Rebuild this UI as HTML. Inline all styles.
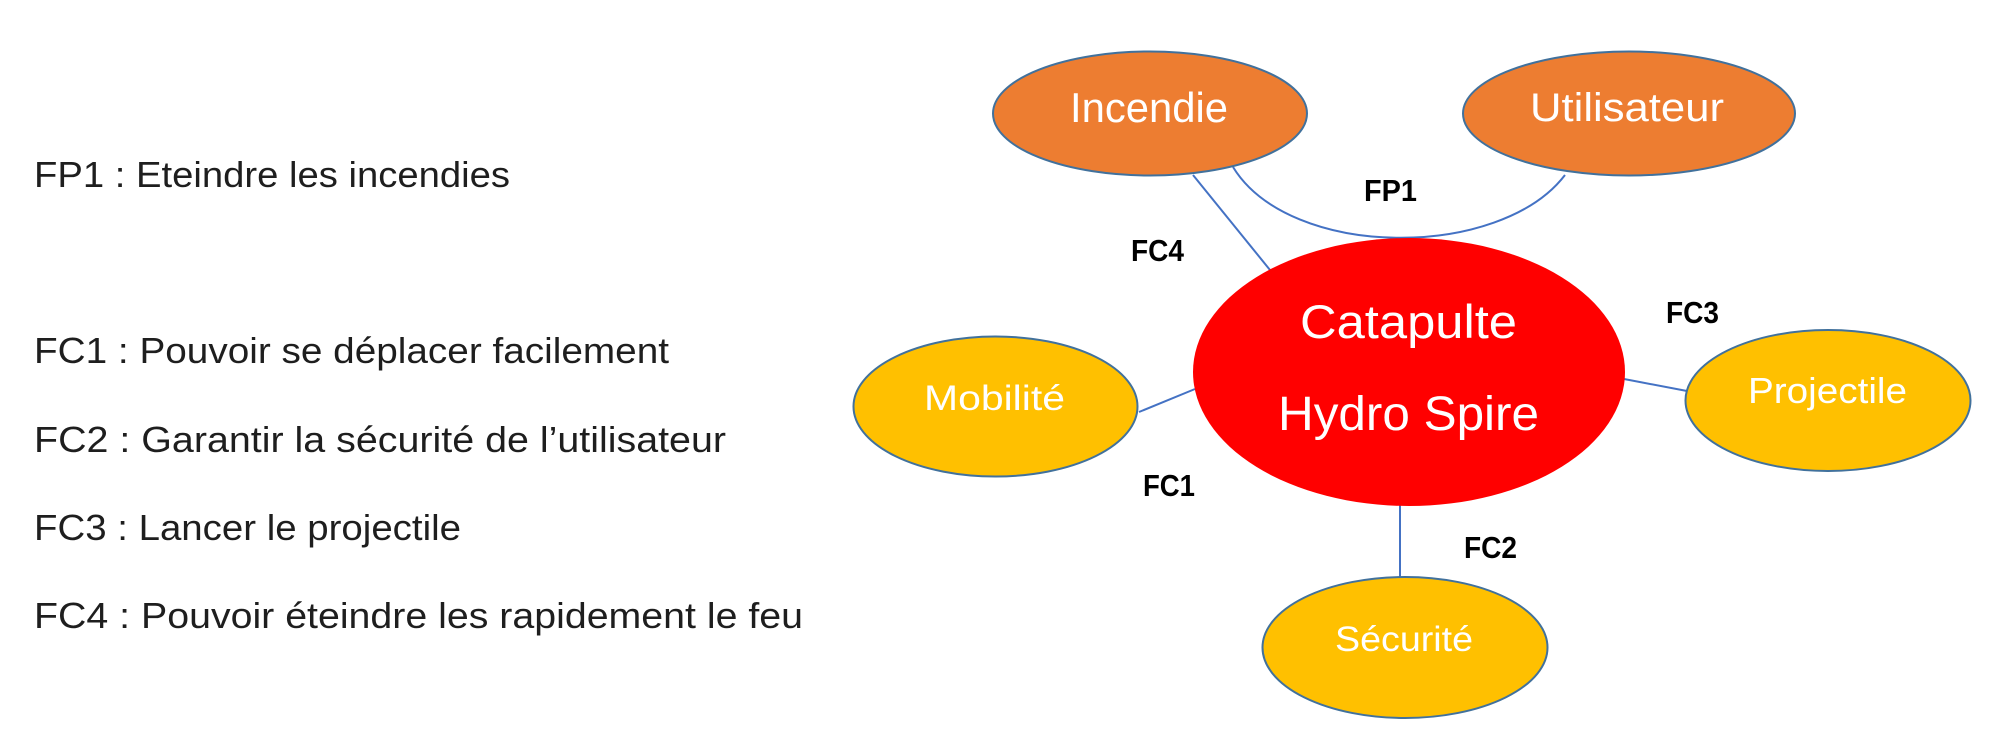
<!DOCTYPE html>
<html>
<head>
<meta charset="utf-8">
<style>
  html, body { margin: 0; padding: 0; background: #ffffff; }
  body { width: 2000px; height: 748px; overflow: hidden; }
  svg { display: block; }
  .lt { font-family: "Liberation Sans", sans-serif; fill: #1e1e1e; }
  .wt { font-family: "Liberation Sans", sans-serif; fill: #ffffff; }
  .bl { font-family: "Liberation Sans", sans-serif; font-weight: bold; fill: #000000; }
</style>
</head>
<body>
<svg width="2000" height="748" viewBox="0 0 2000 748" xmlns="http://www.w3.org/2000/svg">
  <rect x="0" y="0" width="2000" height="748" fill="#ffffff"/>

  <!-- Left legend text -->
  <text class="lt" x="34" y="187" font-size="36" textLength="476" lengthAdjust="spacingAndGlyphs">FP1 : Eteindre les incendies</text>
  <text class="lt" x="34" y="363" font-size="36" textLength="635" lengthAdjust="spacingAndGlyphs">FC1 : Pouvoir se déplacer facilement</text>
  <text class="lt" x="34" y="452" font-size="36" textLength="692" lengthAdjust="spacingAndGlyphs">FC2 : Garantir la sécurité de l’utilisateur</text>
  <text class="lt" x="34" y="540" font-size="36" textLength="427" lengthAdjust="spacingAndGlyphs">FC3 : Lancer le projectile</text>
  <text class="lt" x="34" y="628" font-size="36" textLength="769" lengthAdjust="spacingAndGlyphs">FC4 : Pouvoir éteindre les rapidement le feu</text>

  <!-- Connectors -->
  <g stroke="#4472C4" stroke-width="2" fill="none">
    <line x1="1193" y1="175" x2="1270" y2="270"/>
    <line x1="1139" y1="412" x2="1195" y2="389"/>
    <line x1="1624" y1="379" x2="1687" y2="391"/>
    <line x1="1400" y1="505" x2="1400" y2="578"/>
    <path d="M1233,167 C1290,260 1500,260 1565,175"/>
  </g>

  <!-- Ellipses -->
  <g stroke="#41719C" stroke-width="2">
    <ellipse cx="1150" cy="113.5" rx="157" ry="62" fill="#ED7D31"/>
    <ellipse cx="1629" cy="113.5" rx="166" ry="62" fill="#ED7D31"/>
    <ellipse cx="995.5" cy="406.5" rx="142" ry="70" fill="#FFC000"/>
    <ellipse cx="1828" cy="400.5" rx="142.5" ry="70.5" fill="#FFC000"/>
    <ellipse cx="1405" cy="647.5" rx="142.5" ry="70.5" fill="#FFC000"/>
  </g>
  <ellipse cx="1409" cy="372" rx="216" ry="134" fill="#FF0000"/>

  <!-- Ellipse labels -->
  <text class="wt" x="1070" y="122" font-size="42" textLength="158" lengthAdjust="spacingAndGlyphs">Incendie</text>
  <text class="wt" x="1530" y="121" font-size="40" textLength="194" lengthAdjust="spacingAndGlyphs">Utilisateur</text>
  <text class="wt" x="924" y="410" font-size="35" textLength="141" lengthAdjust="spacingAndGlyphs">Mobilité</text>
  <text class="wt" x="1300" y="338" font-size="47" textLength="217" lengthAdjust="spacingAndGlyphs">Catapulte</text>
  <text class="wt" x="1278" y="430" font-size="48" textLength="261" lengthAdjust="spacingAndGlyphs">Hydro Spire</text>
  <text class="wt" x="1748" y="403" font-size="36" textLength="159" lengthAdjust="spacingAndGlyphs">Projectile</text>
  <text class="wt" x="1335" y="651" font-size="35" textLength="138" lengthAdjust="spacingAndGlyphs">Sécurité</text>

  <!-- Connector labels -->
  <text class="bl" x="1364" y="201" font-size="31" textLength="53" lengthAdjust="spacingAndGlyphs">FP1</text>
  <text class="bl" x="1131" y="261" font-size="31" textLength="53" lengthAdjust="spacingAndGlyphs">FC4</text>
  <text class="bl" x="1143" y="496" font-size="31" textLength="52" lengthAdjust="spacingAndGlyphs">FC1</text>
  <text class="bl" x="1666" y="323" font-size="31" textLength="53" lengthAdjust="spacingAndGlyphs">FC3</text>
  <text class="bl" x="1464" y="558" font-size="31" textLength="53" lengthAdjust="spacingAndGlyphs">FC2</text>
</svg>
</body>
</html>
